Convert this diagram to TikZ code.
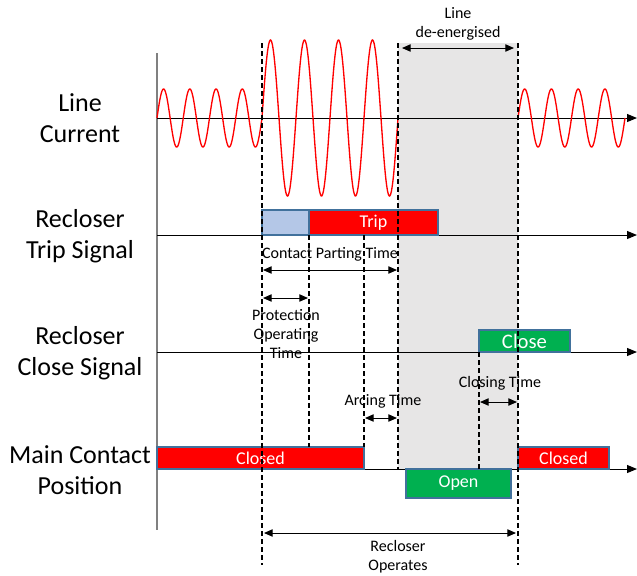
\documentclass[tikz,border=0pt]{standalone}
\usepackage{fontspec}
\setmainfont{Carlito}
\usetikzlibrary{arrows.meta}
\definecolor{boxred}{HTML}{FF0000}
\definecolor{boxgreen}{HTML}{00B050}
\definecolor{boxblue}{HTML}{B4C7E7}
\definecolor{edgeblue}{HTML}{41719C}
\definecolor{greyzone}{HTML}{E7E6E6}
\definecolor{axisgray}{HTML}{808080}
\begin{document}
\begin{tikzpicture}[x=0.75pt,y=-0.75pt,
  axis/.style={line width=0.75pt, -{Triangle[length=7.5pt,width=6pt]}},
  guide/.style={dash pattern=on 3.5pt off 2.5pt, line width=0.9pt},
  dim/.style={line width=0.75pt, {Triangle[length=6.5pt,width=5.5pt]}-{Triangle[length=6.5pt,width=5.5pt]}},
  sig/.style={draw=edgeblue, line width=1pt, text=white, font=\fontsize{13.5}{16}\selectfont, inner sep=0pt},
  lab/.style={align=center, font=\fontsize{19.5}{23.5}\selectfont},
  note/.style={align=center, font=\fontsize{12}{14}\selectfont, inner sep=0pt},
  wave/.style={red, line width=1pt, smooth, samples=240},
]
\useasboundingbox (0,0) rectangle (637,576);

% shaded de-energised region
\fill[greyzone] (398,43) rectangle (518,469);

% axes
\coordinate (vtop) at (157,53);
\coordinate (vbot) at (157,530);
\draw[axisgray, line width=1pt] (vtop) -- (vbot);
\foreach \yy/\nm in {118/a1,235/a2,352/a3,469/a4}{
  \coordinate (\nm s) at (157,\yy);
  \coordinate (\nm e) at (637,\yy);
  \draw[axis] (\nm s) -- (\nm e);
}

% line current waveform
\draw[wave, domain=157:262] plot (\x, {118 - 29*sin((\x-157)/26.25*360)});
\draw[wave, domain=262:398] plot (\x, {118 - 78*sin((\x-262)/34*360)});
\draw[wave, domain=518:625] plot (\x, {118 - 29*sin((\x-518)/26.75*360)});

% signal boxes
\node[sig, fill=boxblue, minimum width={47*0.75pt}, minimum height={25*0.75pt}] (tripA) at (285.5,222.5) {};
\node[sig, fill=boxred, minimum width={129*0.75pt}, minimum height={25*0.75pt}] (trip) at (373.5,222.5) {Trip};
\node[sig, fill=boxgreen, minimum width={91*0.75pt}, minimum height={22*0.75pt}, font=\fontsize{15.5}{18}\selectfont] (close) at (524.5,341) {Close};
\node[sig, fill=boxred, minimum width={207*0.75pt}, minimum height={22*0.75pt}] (closedL) at (260.5,458) {Closed};
\node[sig, fill=boxred, minimum width={91*0.75pt}, minimum height={22*0.75pt}] (closedR) at (563.5,458) {Closed};
\node[sig, fill=boxgreen, minimum width={105*0.75pt}, minimum height={29*0.75pt}] (open) at (458.5,483.5) {Open};

% dashed guides
\coordinate (g1t) at (262,43);  \coordinate (g1b) at (262,565);
\coordinate (g2t) at (309,235); \coordinate (g2b) at (309,447);
\coordinate (g3t) at (364,235); \coordinate (g3b) at (364,447);
\coordinate (g4t) at (398,43);  \coordinate (g4b) at (398,469);
\coordinate (g5t) at (479,352); \coordinate (g5b) at (479,469);
\coordinate (g6t) at (518,43);  \coordinate (g6b) at (518,565);
\foreach \g in {g1,g2,g3,g4,g5,g6}{\draw[guide] (\g t) -- (\g b);}

% left labels
\node[lab] (lc) at (80,118) {Line\\Current};
\node[lab] (rt) at (80,236) {Recloser\\Trip Signal};
\node[lab] (rc) at (80,353) {Recloser\\Close Signal};
\node[lab] (mc) at (80,470) {Main Contact\\Position};

% dimension arrows
\coordinate (d1a) at (402,48);  \coordinate (d1b) at (514,48);
\draw[dim] (d1a) -- (d1b);
\node[note] (lde) at (458,24) {Line\\de-energised};

\coordinate (d2a) at (263,270); \coordinate (d2b) at (397,270);
\draw[dim] (d2a) -- (d2b);
\node[note] (cpt) at (330,254) {Contact Parting Time};

\coordinate (d3a) at (263,298); \coordinate (d3b) at (308,298);
\draw[dim] (d3a) -- (d3b);
\node[note] (pot) at (286,334) {Protection\\Operating\\Time};

\coordinate (d4a) at (365,418); \coordinate (d4b) at (397,418);
\draw[dim] (d4a) -- (d4b);
\node[note] (art) at (383,401) {Arcing Time};

\coordinate (d5a) at (480,402); \coordinate (d5b) at (517,402);
\draw[dim] (d5a) -- (d5b);
\node[note] (clt) at (500,383) {Closing Time};

\coordinate (d6a) at (264,533); \coordinate (d6b) at (516,533);
\draw[dim] (d6a) -- (d6b);
\node[note] (rop) at (398,557) {Recloser\\Operates};
\end{tikzpicture}
\end{document}
